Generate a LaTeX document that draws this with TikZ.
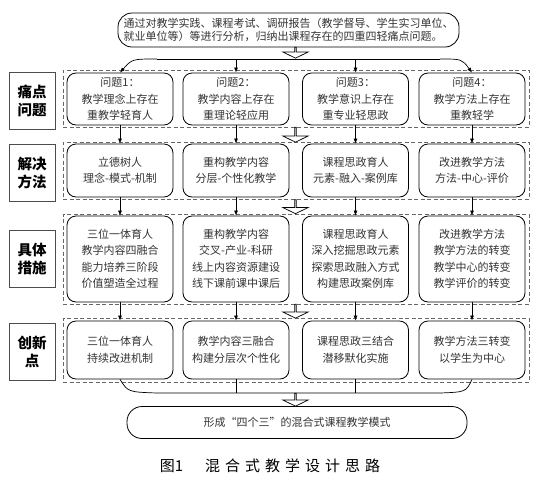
\documentclass[tikz,border=0pt]{standalone}
\usepackage{fontspec}
\setmainfont{Noto Sans CJK SC}
\usetikzlibrary{shapes.arrows,arrows.meta}

\tikzset{
  stepbox/.style={draw, line width=0.8pt, rounded corners=9pt, minimum width=106pt,
    align=center, inner sep=1pt, text=black!80, font=\fontsize{11}{16.5}\selectfont},
  rowframe/.style={draw=black!60, line width=0.8pt, dash pattern=on 4pt off 2.5pt,
    minimum width=466pt},
  rowlabel/.style={draw=black!70, line width=1pt, minimum width=46pt, minimum height=57pt,
    align=center, font=\fontsize{14.5}{18}\selectfont\bfseries},
  hollow/.style={single arrow, draw, line width=0.7pt, fill=white, shape border rotate=270,
    minimum width=25pt, single arrow head extend=6pt, single arrow tip angle=128, inner sep=0pt},
  link/.style={-{Latex[length=5pt,width=4pt]}, line width=0.7pt},
  bracket/.style={line width=0.7pt},
}

\begin{document}
\begin{tikzpicture}[x=1pt,y=-1pt]
  \useasboundingbox (0,0) rectangle (557,483);

  % frames of the four rows
  \node[rowframe, minimum height=57pt] at (296,98.5) (f1) {};
  \node[rowframe, minimum height=57pt] at (296,170.5) (f2) {};
  \node[rowframe, minimum height=90pt] at (296,259) (f3) {};
  \node[rowframe, minimum height=64pt] at (296,350) (f4) {};

  % row labels
  \node[rowlabel] at (32,100.5) (la) {痛点\\问题};
  \node[rowlabel] at (32,173) (lb) {解决\\方法};
  \node[rowlabel] at (32,259) (lc) {具体\\措施};
  \node[rowlabel] at (32,351.5) (ld) {创新\\点};

  % source and result
  \node[stepbox, rounded corners=14pt, minimum width=341pt, minimum height=34pt, align=left,
    font=\fontsize{11}{12.5}\selectfont] at (288.5,30) (src)
    {通过对教学实践、课程考试、调研报告（教学督导、学生实习单位、\\就业单位等）等进行分析，归纳出课程存在的四重四轻痛点问题。};
  \node[stepbox, rounded corners=15pt, minimum width=340pt, minimum height=32pt] at (297,422.5) (res)
    {形成“四个三”的混合式课程教学模式};

  % row 1
  \node[stepbox, minimum height=52pt] at (120,99) (p1) {问题1：\\教学理念上存在\\重教学轻育人};
  \node[stepbox, minimum height=52pt] at (236,99) (p2) {问题2：\\教学内容上存在\\重理论轻应用};
  \node[stepbox, minimum height=52pt] at (355.5,99) (p3) {问题3：\\教学意识上存在\\重专业轻思政};
  \node[stepbox, minimum height=52pt] at (472,99) (p4) {问题4：\\教学方法上存在\\重教轻学};

  % row 2
  \node[stepbox, minimum height=53pt] at (120,170.5) (s1) {立德树人\\理念-模式-机制};
  \node[stepbox, minimum height=53pt] at (236,170.5) (s2) {重构教学内容\\分层-个性化教学};
  \node[stepbox, minimum height=53pt] at (355.5,170.5) (s3) {课程思政育人\\元素-融入-案例库};
  \node[stepbox, minimum height=53pt] at (472,170.5) (s4) {改进教学方法\\方法-中心-评价};

  % row 3
  \node[stepbox, minimum height=86pt] at (120,259) (m1) {三位一体育人\\教学内容四融合\\能力培养三阶段\\价值塑造全过程};
  \node[stepbox, minimum height=86pt] at (236,259) (m2) {重构教学内容\\交叉-产业-科研\\线上内容资源建设\\线下课前课中课后};
  \node[stepbox, minimum height=86pt] at (355.5,259) (m3) {课程思政育人\\深入挖掘思政元素\\探索思政融入方式\\构建思政案例库};
  \node[stepbox, minimum height=86pt] at (472,259) (m4) {改进教学方法\\教学方法的转变\\教学中心的转变\\教学评价的转变};

  % row 4
  \node[stepbox, minimum height=58pt] at (120,350) (n1) {三位一体育人\\持续改进机制};
  \node[stepbox, minimum height=58pt] at (236,350) (n2) {教学内容三融合\\构建分层次个性化};
  \node[stepbox, minimum height=58pt] at (355.5,350) (n3) {课程思政三结合\\潜移默化实施};
  \node[stepbox, minimum height=58pt] at (472,350) (n4) {教学方法三转变\\以学生为中心};

  % hollow arrows between the rows
  \node[hollow, minimum height=11pt] at (295.5,52.5) (h0) {};
  \node[hollow, minimum height=15pt] at (295.5,134.5) (h1) {};
  \node[hollow, minimum height=14pt] at (295.5,206.5) (h2) {};
  \node[hollow, minimum height=14pt] at (295.5,311) (h3) {};
  \node[hollow, minimum height=13pt] at (295.5,399.5) (h4) {};

  % draw edges
  \coordinate (tl) at (157,59);
  \coordinate (tr) at (440,59);
  \coordinate (bl) at (157,393);
  \coordinate (br) at (440,393);
  \draw[bracket] (tl) -- (tr);
  \draw[link] (tl) .. controls (132,59) .. (p1.north);
  \draw[link] (tr) .. controls (462,59) .. (p4.north);
  \draw[link] (p2.north |- tl) -- (p2.north);
  \draw[link] (p3.north |- tl) -- (p3.north);
  \foreach \a/\b in {p1/s1,p2/s2,p3/s3,p4/s4,s1/m1,s2/m2,s3/m3,s4/m4,m1/n1,m2/n2,m3/n3,m4/n4}
    \draw[link] (\a) -- (\b);
  \draw[bracket] (n1.south) .. controls (128,392) .. (bl) -- (br) .. controls (466,392) .. (n4.south);
  \draw[bracket] (n2.south) -- (n2.south |- bl);
  \draw[bracket] (n3.south) -- (n3.south |- bl);

  % caption
  \node[font=\fontsize{15}{15}\selectfont] at (270,466) (cap)
    {图1\hspace{22pt}混\hspace{5pt}合\hspace{5pt}式\hspace{5pt}教\hspace{5pt}学\hspace{5pt}设\hspace{5pt}计\hspace{5pt}思\hspace{5pt}路};
\end{tikzpicture}
\end{document}
